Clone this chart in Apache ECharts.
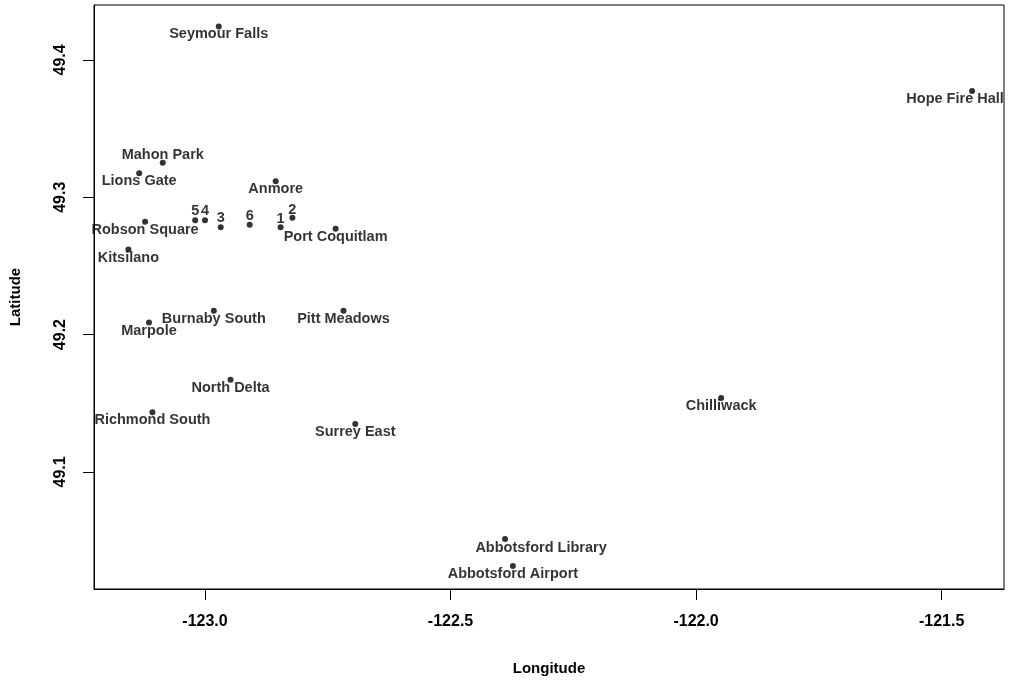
<!DOCTYPE html>
<html>
<head>
<meta charset="utf-8">
<script src="https://cdn.jsdelivr.net/npm/echarts@6/dist/echarts.min.js"></script>
<style>
  html, body { margin: 0; padding: 0; background: #fff; }
  #chart { width: 1014px; height: 683px; }
</style>
</head>
<body>
<div id="chart"></div>
<script>
// Monitoring stations around the Lower Fraser Valley
const stationNames = [
  'Seymour Falls', 'Mahon Park', 'Lions Gate', 'Anmore', 'Robson Square',
  '5', '4', '3', '6', '1', '2', 'Port Coquitlam', 'Kitsilano',
  'Burnaby South', 'Marpole', 'Pitt Meadows', 'North Delta',
  'Richmond South', 'Surrey East', 'Chilliwack', 'Hope Fire Hall',
  'Abbotsford Library', 'Abbotsford Airport'
];
const longitudes = [
  -122.972, -123.086, -123.134, -122.856, -123.122,
  -123.020, -123.000, -122.968, -122.909, -122.846, -122.822, -122.734, -123.156,
  -122.982, -123.114, -122.718, -122.948,
  -123.107, -122.694, -121.949, -121.438,
  -122.389, -122.373
];
const latitudes = [
  49.4244, 49.3252, 49.3174, 49.3117, 49.2821,
  49.2833, 49.2833, 49.2782, 49.2799, 49.2782, 49.2850, 49.2770, 49.2619,
  49.2174, 49.2087, 49.2174, 49.1671,
  49.1435, 49.1348, 49.1538, 49.3774,
  49.0511, 49.0314
];
const xTicks = [-123.0, -122.5, -122.0, -121.5];
const yTicks = [49.1, 49.2, 49.3, 49.4];

// label nudges (pixels) for names that sit above their point or off-centre
const labelNudge = {
  'Mahon Park': [0, -8],
  '5': [0, -9], '4': [0, -9], '3': [0, -9], '6': [0, -9], '1': [0, -8], '2': [0, -8],
  'Hope Fire Hall': [-17, 8],
  'Abbotsford Library': [36, 9]
};
const DEFAULT_NUDGE = [0, 8];

const FONT = '"Liberation Sans", Arial, Helvetica, sans-serif';
const INK = '#000';

const points = stationNames.map((name, i) => ({
  name: name,
  value: [longitudes[i], latitudes[i]]
}));

const chart = echarts.init(document.getElementById('chart'), null, { renderer: 'canvas' });
chart.setOption({
  animation: false,
  backgroundColor: '#fff',
  grid: {
    left: 92, right: 10, top: 5, bottom: 94,
    show: true, borderColor: INK, borderWidth: 1, backgroundColor: 'transparent'
  },
  xAxis: {
    type: 'value',
    min: -123.226, max: -121.373,
    name: 'Longitude', nameLocation: 'middle', nameGap: 72,
    nameTextStyle: { fontFamily: FONT, fontSize: 15, fontWeight: 'bold', color: INK },
    axisLine: { show: true, lineStyle: { color: INK } },
    axisTick: { show: true, inside: false, length: 11, lineStyle: { color: INK }, customValues: xTicks },
    axisLabel: {
      customValues: xTicks, margin: 25,
      fontFamily: FONT, fontSize: 16, fontWeight: 'bold', color: INK,
      formatter: v => v.toFixed(1)
    },
    splitLine: { show: false }
  },
  yAxis: {
    type: 'value',
    min: 49.0147, max: 49.440,
    name: 'Latitude', nameLocation: 'middle', nameGap: 71, nameRotate: 90,
    nameTextStyle: { fontFamily: FONT, fontSize: 15, fontWeight: 'bold', color: INK },
    axisLine: { show: true, lineStyle: { color: INK } },
    axisTick: { show: true, inside: false, length: 11, lineStyle: { color: INK }, customValues: yTicks },
    axisLabel: {
      customValues: yTicks, margin: 25, rotate: 90,
      fontFamily: FONT, fontSize: 16, fontWeight: 'bold', color: INK,
      formatter: v => v.toFixed(1)
    },
    splitLine: { show: false }
  },
  series: [{
    type: 'scatter',
    data: points,
    symbol: 'circle',
    symbolSize: 6,
    itemStyle: { color: INK },
    label: {
      show: true,
      position: 'inside',
      formatter: p => p.name,
      fontFamily: FONT, fontSize: 14.5, fontWeight: 'bold', color: INK
    },
    labelLayout: params => {
      const nudge = labelNudge[stationNames[params.dataIndex]] || DEFAULT_NUDGE;
      return { dx: nudge[0], dy: nudge[1], hideOverlap: false };
    }
  }]
});
</script>
</body>
</html>
